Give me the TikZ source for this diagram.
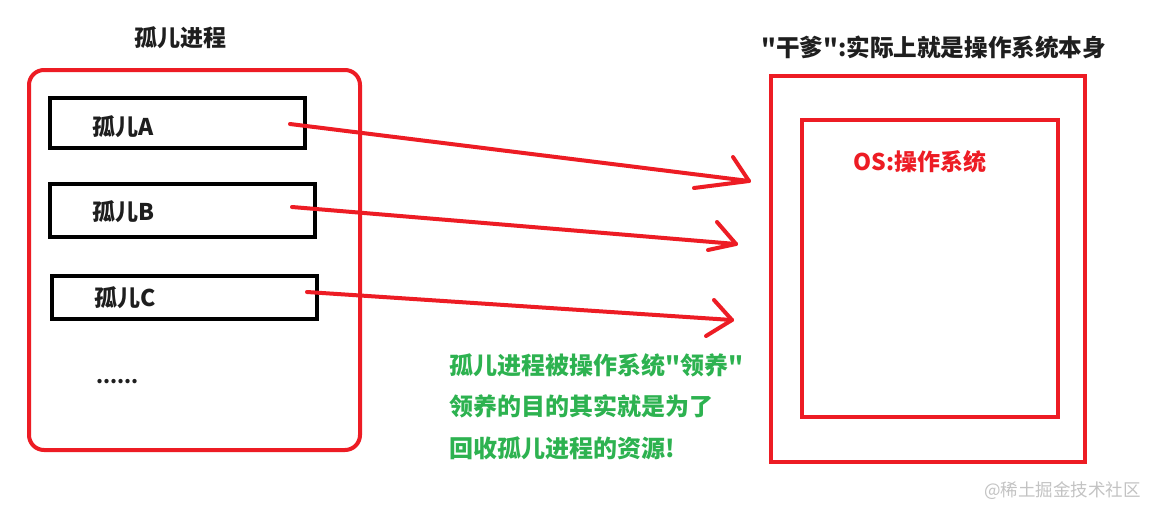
\documentclass[tikz,border=0pt]{standalone}
\usepackage{fontspec}
\setmainfont{Noto Sans CJK SC}[Ligatures=TeXOff]
\definecolor{pred}{RGB}{237,28,36}
\definecolor{pgreen}{RGB}{45,178,80}
\definecolor{ptext}{RGB}{30,30,30}
\definecolor{wmark}{RGB}{195,195,195}
\tikzset{
  redbox/.style={draw=pred, line width=4pt, anchor=north west, inner sep=0pt},
  blackbox/.style={draw=black, line width=4pt, anchor=north west, inner sep=0pt},
  lbl/.style={anchor=west, inner sep=0pt, text=ptext, font=\fontsize{23}{28}\selectfont\bfseries},
  redarrow/.style={draw=pred, line width=4pt, line cap=round, line join=round},
  greentxt/.style={anchor=west, inner sep=0pt, text=pgreen, font=\fontsize{24}{28}\selectfont\bfseries}
}
\begin{document}
\begin{tikzpicture}[x=1pt,y=-1pt]
\useasboundingbox[fill=white] (0,0) rectangle (1152,507);
% left group
\node[lbl, anchor=center] (ltitle) at (180,38) {孤儿进程};
\node[redbox, rounded corners=15pt, minimum width=331pt, minimum height=380pt] (group) at (27,68) {};
\node[blackbox, minimum width=255pt, minimum height=50pt] (A) at (48,96) {};
\node[blackbox, minimum width=265pt, minimum height=53pt] (B) at (48,182) {};
\node[blackbox, minimum width=265pt, minimum height=43pt] (C) at (50,274) {};
\node[lbl] (Alab) at (92,127) {孤儿A};
\node[lbl] (Blab) at (92,212) {孤儿B};
\node[lbl] (Clab) at (94,298) {孤儿C};
\node[lbl, font=\fontsize{20}{24}\selectfont\bfseries] (dots) at (96,382) {......};
% right group
\node[lbl, font=\fontsize{23.6}{28}\selectfont\bfseries] (rtitle) at (761,47) {"干爹":实际上就是操作系统本身};
\node[redbox, minimum width=314pt, minimum height=386pt] (outer) at (769,74) {};
\node[redbox, minimum width=256pt, minimum height=297pt] (inner) at (800,118) {};
\node[lbl, anchor=center, text=pred] (os) at (920,162) {OS:操作系统};
% arrows
\coordinate (sA) at (290,124); \coordinate (tA) at (749,181);
\coordinate (sB) at (292,207); \coordinate (tB) at (736,244);
\coordinate (sC) at (307,292); \coordinate (tC) at (732,320);
\draw[redarrow] (sA) -- (tA);
\draw[redarrow] (733,157) -- (tA) -- (694,188);
\draw[redarrow] (sB) -- (tB);
\draw[redarrow] (717,222) -- (tB) -- (708,250);
\draw[redarrow] (sC) -- (tC);
\draw[redarrow] (714,300) -- (tC) -- (706,336);
% green text
\node[greentxt] (g1) at (449,365) {孤儿进程被操作系统"领养"};
\node[greentxt] (g2) at (449,406) {领养的目的其实就是为了};
\node[greentxt] (g3) at (449,448) {回收孤儿进程的资源!};
% watermark
\node[anchor=west, inner sep=0pt, text=wmark, font=\fontsize{17.5}{20}\selectfont] (wm) at (984,491) {@稀土掘金技术社区};
\end{tikzpicture}
\end{document}
